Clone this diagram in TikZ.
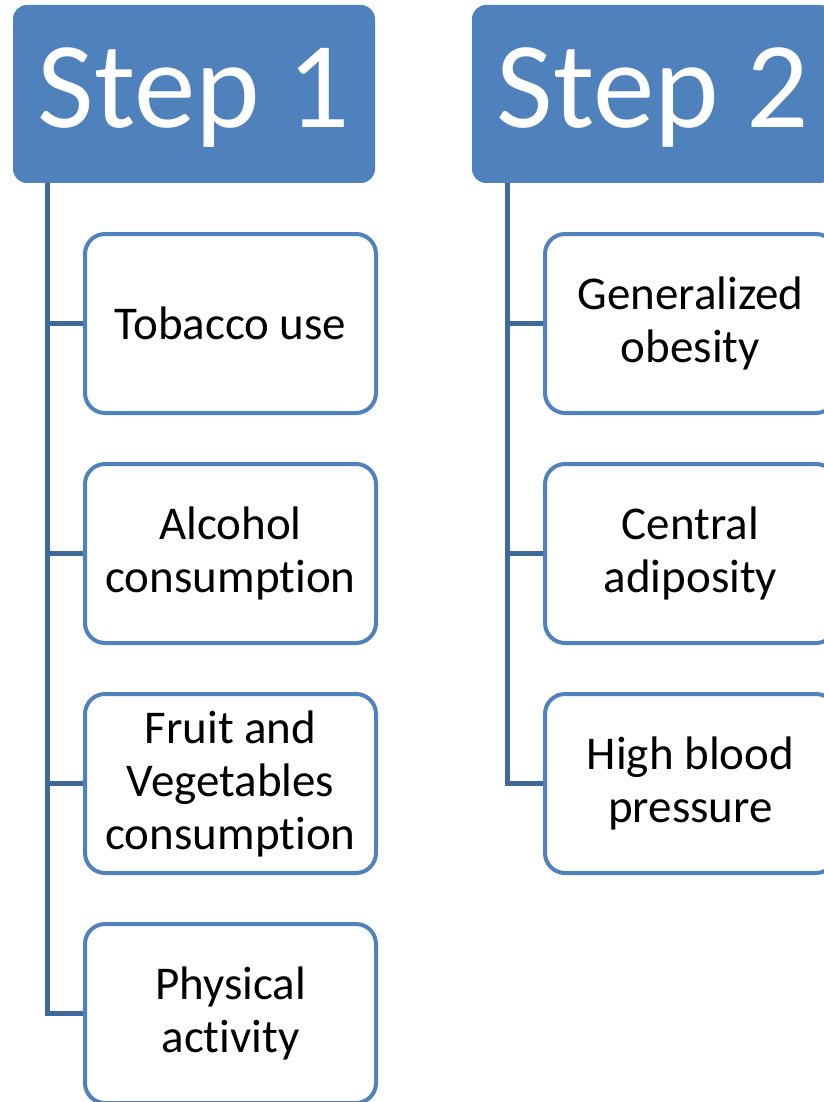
\documentclass[tikz,border=0pt]{standalone}
\usepackage{fontspec}
\setmainfont[Ligatures={NoCommon,NoContextual}]{Carlito}
\definecolor{stepblue}{RGB}{79,129,189}
\definecolor{linkblue}{RGB}{65,104,154}

\begin{document}
\begin{tikzpicture}[x=1pt,y=-1pt,
    header/.style={rectangle,rounded corners=14pt,fill=stepblue,text=white,
        minimum width=362pt,minimum height=178pt,inner sep=0pt,
        text height=84pt,text depth=16pt,
        font=\fontsize{123}{130}\selectfont},
    item/.style={rectangle,rounded corners=20pt,draw=stepblue,line width=4pt,
        fill=white,minimum width=291pt,minimum height=179pt,inner sep=0pt,
        align=center,font=\fontsize{47}{53}\selectfont},
    link/.style={linkblue,line width=5pt}]

    \useasboundingbox (0,0) rectangle (823,1102);

    % headers
    \path   (194,94)  node (s1) [header] {Step 1}
            (653,94)  node (s2) [header] {Step 2};

    % roots of the connectors
    \coordinate (r1) at (47,183);
    \coordinate (r2) at (507,183);

    \path   (230.5,323.5)  coordinate (p11)
            (230.5,553.5)  coordinate (p12)
            (230.5,783.5)  coordinate (p13)
            (230.5,1013.5) coordinate (p14)
            (690.5,323.5)  coordinate (p21)
            (690.5,553.5)  coordinate (p22)
            (690.5,783.5)  coordinate (p23);

    \path   (p11) node (c11) [item] {Tobacco use}
            (p12) node (c12) [item] {Alcohol\\consumpt\kern0pt ion}
            (p13) node (c13) [item] {Fruit and\\Vegetables\\consumpt\kern0pt ion}
            (p14) node (c14) [item] {Physical\\activity}
            (p21) node (c21) [item] {Generalized\\obesity}
            (p22) node (c22) [item] {Central\\adiposity}
            (p23) node (c23) [item] {High blood\\pressure};

    \draw[link] (r1) |- (c11.west);
    \draw[link] (r1) |- (c12.west);
    \draw[link] (r1) |- (c13.west);
    \draw[link] (r1) |- (c14.west);
    \draw[link] (r2) |- (c21.west);
    \draw[link] (r2) |- (c22.west);
    \draw[link] (r2) |- (c23.west);
\end{tikzpicture}
\end{document}
